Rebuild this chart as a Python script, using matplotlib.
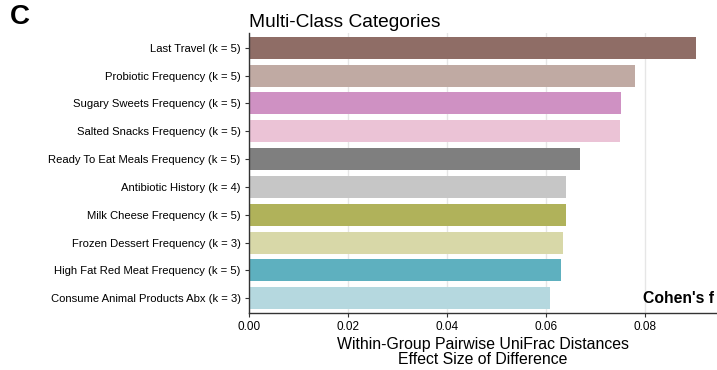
import matplotlib
matplotlib.use("Agg")
import matplotlib.pyplot as plt

plt.rcParams['font.family'] = ['Liberation Sans', 'DejaVu Sans']

categories = [
    "Last Travel (k = 5)",
    "Probiotic Frequency (k = 5)",
    "Sugary Sweets Frequency (k = 5)",
    "Salted Snacks Frequency (k = 5)",
    "Ready To Eat Meals Frequency (k = 5)",
    "Antibiotic History (k = 4)",
    "Milk Cheese Frequency (k = 5)",
    "Frozen Dessert Frequency (k = 3)",
    "High Fat Red Meat Frequency (k = 5)",
    "Consume Animal Products Abx (k = 3)",
]
effect_size = [0.0902, 0.0780, 0.0751, 0.0749, 0.0669,
               0.0640, 0.0640, 0.0635, 0.0631, 0.0607]
colors = ["#8f6d66", "#c0aaa3", "#cf91c3", "#ebc3d6", "#7f7f7f",
          "#c6c6c6", "#b0b25a", "#d8d8a8", "#5eb0bf", "#b5d8df"]
xticks = [0.00, 0.02, 0.04, 0.06, 0.08]

fig = plt.figure(figsize=(7.17, 3.70), dpi=100)
ax = fig.add_axes([0.3473, 0.155, 0.6527, 0.756])

ypos = list(range(len(categories)))
ax.barh(ypos, effect_size, height=0.79, color=colors, zorder=2)

ax.set_yticks(ypos)
ax.set_yticklabels(categories, fontsize=8.1)
ax.set_ylim(len(categories) - 0.48, -0.53)
ax.set_xlim(0, 0.0945)
ax.set_xticks(xticks)
ax.set_xticklabels([f"{v:.2f}" for v in xticks], fontsize=8.5)

ax.xaxis.grid(True, color="#e6e6e6", linewidth=1.0, zorder=0)
ax.set_axisbelow(True)
for side in ("top", "right"):
    ax.spines[side].set_visible(False)
for side in ("left", "bottom"):
    ax.spines[side].set_color("#333333")
    ax.spines[side].set_linewidth(1.0)
ax.tick_params(axis="both", length=3, width=0.8, color="#333333", pad=3)

ax.set_xlabel("Within-Group Pairwise UniFrac Distances\nEffect Size of Difference",
              fontsize=11.4, linespacing=0.98, labelpad=3)
ax.set_title("Multi-Class Categories", loc="left", fontsize=13.8, pad=4)

ax.text(0.993, 0.025, "Cohen's f", transform=ax.transAxes, ha="right", va="bottom",
        fontsize=11.3, fontweight="bold")
fig.text(0.014, 0.955, "C", fontsize=20, fontweight="bold", ha="left", va="center")

fig.savefig("out.png", dpi=100)
